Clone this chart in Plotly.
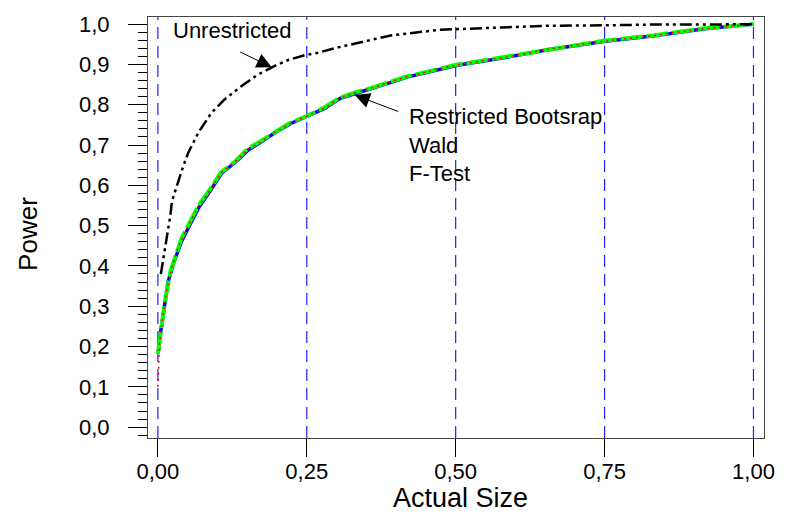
import plotly.graph_objects as go

# Unrestricted
unr_x = [0.005, 0.0096, 0.012, 0.018, 0.021, 0.0235, 0.0345, 0.042, 0.051, 0.068, 0.090, 0.112,
         0.140, 0.167, 0.200, 0.219, 0.247, 0.269, 0.296, 0.341, 0.391, 0.474, 0.556, 0.655,
         0.750, 0.830, 0.920, 1.000]
unr_y = [0.380, 0.419, 0.443, 0.500, 0.526, 0.560, 0.612, 0.645, 0.681, 0.731, 0.780, 0.813,
         0.846, 0.874, 0.899, 0.911, 0.923, 0.929, 0.940, 0.956, 0.972, 0.986, 0.991, 0.996,
         0.997, 0.999, 0.999, 1.000]

# Restricted Bootstrap (blue)
boot_x = [0.001, 0.004, 0.010, 0.017, 0.027, 0.040, 0.053, 0.069, 0.086, 0.107, 0.129, 0.152,
          0.175, 0.197, 0.224, 0.252, 0.280, 0.306, 0.330, 0.360, 0.420, 0.503, 0.586, 0.657,
          0.748, 0.834, 0.915, 1.000]
boot_y = [0.190, 0.230, 0.290, 0.360, 0.410, 0.462, 0.500, 0.546, 0.582, 0.630, 0.656, 0.688,
          0.709, 0.731, 0.754, 0.773, 0.791, 0.816, 0.828, 0.841, 0.869, 0.898, 0.918, 0.937,
          0.957, 0.971, 0.988, 1.000]

# Wald (red)
wald_x = [0.000, 0.001, 0.003, 0.008, 0.015, 0.024, 0.035, 0.050, 0.068, 0.085, 0.106, 0.128,
          0.151, 0.174, 0.196, 0.223, 0.251, 0.279, 0.305, 0.328, 0.358, 0.419, 0.502, 0.585,
          0.656, 0.746, 0.833, 0.914, 1.000]
wald_y = [0.100, 0.160, 0.210, 0.270, 0.340, 0.400, 0.450, 0.497, 0.548, 0.582, 0.631, 0.656,
          0.689, 0.709, 0.731, 0.754, 0.772, 0.791, 0.816, 0.828, 0.841, 0.870, 0.899, 0.918,
          0.938, 0.957, 0.972, 0.988, 1.000]

# F-Test (green)
ftest_x = [0.000, 0.006, 0.012, 0.021, 0.029, 0.040, 0.051, 0.068, 0.084, 0.106, 0.128, 0.150,
           0.173, 0.195, 0.222, 0.250, 0.278, 0.305, 0.327, 0.357, 0.418, 0.501, 0.584, 0.655,
           0.745, 0.832, 0.914, 1.000]
ftest_y = [0.182, 0.246, 0.312, 0.386, 0.422, 0.470, 0.501, 0.550, 0.583, 0.632, 0.657, 0.690,
           0.710, 0.731, 0.755, 0.772, 0.792, 0.817, 0.829, 0.841, 0.870, 0.899, 0.919, 0.938,
           0.958, 0.972, 0.989, 1.000]

x_ticks = [0, 0.25, 0.5, 0.75, 1.0]
y_ticks = [0.0, 0.1, 0.2, 0.3, 0.4, 0.5, 0.6, 0.7, 0.8, 0.9, 1.0]

FONT = "Liberation Sans, Arial, sans-serif"

fig = go.Figure()

# vertical dashed blue grid lines at the x ticks
for xv in x_ticks:
    fig.add_shape(type="line", xref="x", yref="paper", x0=xv, x1=xv, y0=0, y1=1,
                  line=dict(color="#2020ff", width=1.2, dash="12px,7px"), layer="below")

fig.add_trace(go.Scatter(x=boot_x, y=boot_y, mode="lines", name="Restricted Bootsrap",
                         line=dict(color="#0000ff", width=3.5)))
fig.add_trace(go.Scatter(x=ftest_x, y=ftest_y, mode="lines", name="F-Test",
                         line=dict(color="#00ff00", width=4, dash="22px,4px")))
fig.add_trace(go.Scatter(x=wald_x, y=wald_y, mode="lines", name="Wald",
                         line=dict(color="#ff0000", width=1.5, dash="2px,4px")))
fig.add_trace(go.Scatter(x=unr_x, y=unr_y, mode="lines", name="Unrestricted",
                         line=dict(color="black", width=2.5,
                                   dash="12px,4px,3px,4px,3px,4px")))

fig.add_annotation(x=0.191, y=0.893, xref="x", yref="y", ax=-33, ay=-16,
                   showarrow=True, arrowhead=2, arrowsize=3, arrowwidth=1,
                   arrowcolor="black", text="")
fig.add_annotation(x=0.3306, y=0.824, xref="x", yref="y", ax=45, ay=17,
                   showarrow=True, arrowhead=2, arrowsize=3, arrowwidth=1,
                   arrowcolor="black", text="")
fig.add_annotation(x=0.0224, y=0.984, xref="x", yref="y", xanchor="left", yanchor="middle",
                   showarrow=False, text="Unrestricted",
                   font=dict(family=FONT, size=22, color="black"))
fig.add_annotation(x=0.418, y=0.701, xref="x", yref="y", xanchor="left", yanchor="middle",
                   showarrow=False, align="left",
                   text="Restricted Bootsrap<br>Wald<br>F-Test",
                   font=dict(family=FONT, size=22, color="black"))

# axis titles
fig.add_annotation(x=-0.1947, y=0.485, xref="paper", yref="paper", xanchor="center",
                   yanchor="middle", textangle=-90, showarrow=False, text="Power",
                   font=dict(family=FONT, size=26, color="black"))
fig.add_annotation(x=0.507, y=-0.1436, xref="paper", yref="paper", xanchor="center",
                   yanchor="middle", showarrow=False, text="Actual Size",
                   font=dict(family=FONT, size=27, color="black"))

fig.update_layout(
    width=787, height=517,
    margin=dict(l=147.5, r=15.3, t=13.3, b=79),
    paper_bgcolor="white", plot_bgcolor="white",
    showlegend=False,
    separators=", ",
    font=dict(family=FONT, color="black"),
)
fig.update_xaxes(
    range=[-0.0166, 1.0177], tickvals=x_ticks, tickformat=".2f",
    ticks="outside", ticklen=18, tickwidth=1, tickcolor="black",
    tickfont=dict(size=22, family=FONT), ticklabelstandoff=-5,
    showgrid=False, zeroline=False, showline=True, mirror=True,
    linecolor="#444444", linewidth=1.2,
)
fig.update_yaxes(
    range=[-0.027, 1.0177], tickvals=y_ticks, tickformat=".1f",
    ticks="outside", ticklen=19, tickwidth=1, tickcolor="black",
    tickfont=dict(size=22, family=FONT), ticklabelstandoff=14,
    minor=dict(dtick=0.02, tick0=0, ticks="outside", ticklen=9, tickwidth=1,
               tickcolor="black", showgrid=False),
    showgrid=False, zeroline=False, showline=True, mirror=True,
    linecolor="#444444", linewidth=1.2,
)

fig.write_html("out.html")
